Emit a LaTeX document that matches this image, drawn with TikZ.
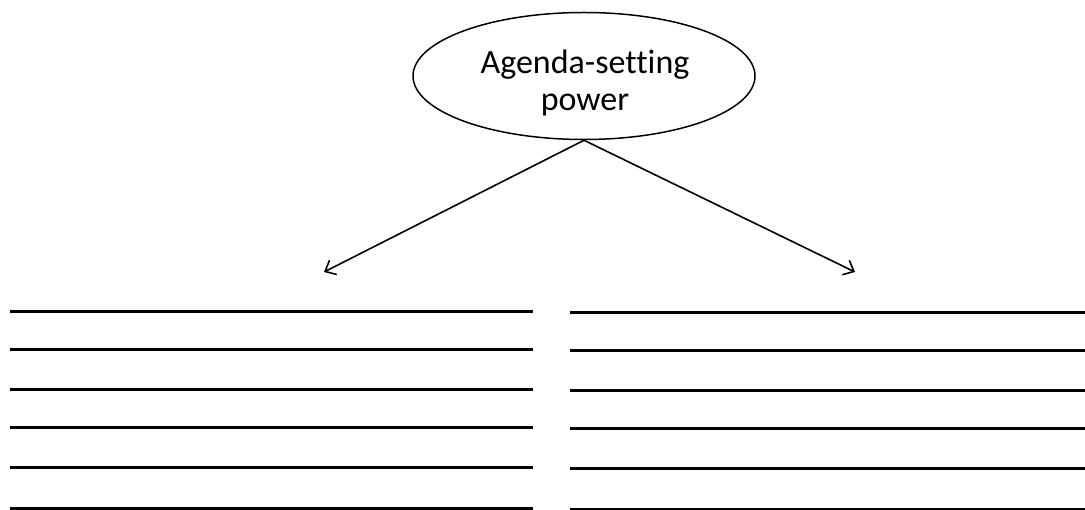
\documentclass[tikz,border=0pt]{standalone}
\usepackage{fontspec}
\setmainfont[RawFeature={-liga;-clig;-dlig}]{Carlito}
\usetikzlibrary{shapes.geometric,arrows.meta}
\begin{document}
\begin{tikzpicture}[x=1pt,y=-1pt,
  bubble/.style={ellipse,draw,line width=1.5pt,minimum width=342pt,minimum height=127pt,inner sep=0pt},
  label/.style={align=center,inner sep=0pt,font=\fontsize{34}{37.5}\selectfont},
  conn/.style={line width=1.6pt,-{Straight Barb[length=9pt,width=16pt]}},
  rule/.style={line width=3pt}]
\useasboundingbox (0,0) rectangle (1085,510);
\node[bubble] (e) at (584,76) {};
\node[label] (t) at (585,83) {Agenda-setting\\power};
\coordinate (l) at (324,272);
\coordinate (r) at (855,272);
\draw[conn] (e.south) -- (l);
\draw[conn] (e.south) -- (r);
\foreach \y in {311.5,350,390,427.5,467.5,508.3}{
  \draw[rule] (10,\y) -- (533,\y);
  \draw[rule] (570,\y+1) -- (1085,\y+1);
}
\end{tikzpicture}
\end{document}
